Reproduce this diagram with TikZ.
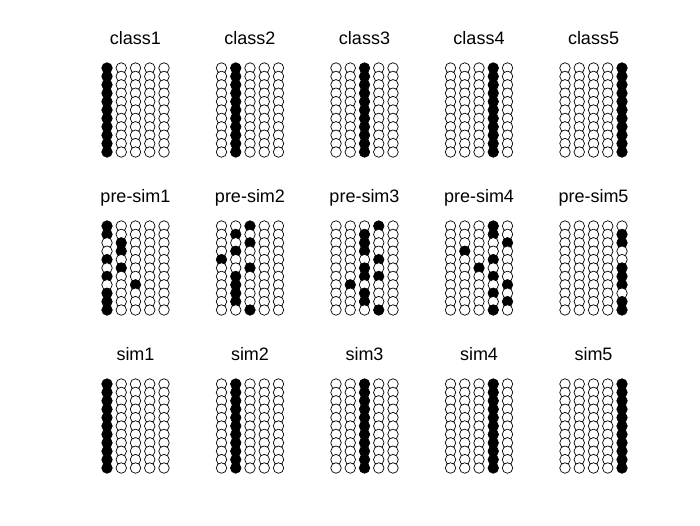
\documentclass[tikz,border=0pt]{standalone}
\usepackage{fontspec}
\setmainfont{Liberation Sans}
\usetikzlibrary{positioning}

\begin{document}
\begin{tikzpicture}[
  x=1pt,y=-1pt,
  dot0/.style={draw,circle,inner sep=0pt,minimum size=10.5pt,line width=0.7pt,fill=white},
  dot1/.style={dot0,fill=black},
  ptitle/.style={anchor=base,font=\fontsize{18}{20}\selectfont}
]
  \useasboundingbox (0,0) rectangle (700,525);

  % one panel per entry: block/panel/title/row masks (bit c-1 = column c filled)
  \foreach \b/\p/\name/\masks in {
    0/0/class1/{1,1,1,1,1,1,1,1,1,1,1},
    0/1/class2/{2,2,2,2,2,2,2,2,2,2,2},
    0/2/class3/{4,4,4,4,4,4,4,4,4,4,4},
    0/3/class4/{8,8,8,8,8,8,8,8,8,8,8},
    0/4/class5/{16,16,16,16,16,16,16,16,16,16,16},
    1/0/pre-sim1/{1,1,2,2,1,2,1,4,1,1,1},
    1/1/pre-sim2/{4,2,4,2,1,4,2,2,2,2,4},
    1/2/pre-sim3/{8,4,4,4,8,4,12,2,4,4,8},
    1/3/pre-sim4/{8,8,16,2,8,4,8,16,8,16,8},
    1/4/pre-sim5/{0,16,16,0,0,16,16,16,0,16,16},
    2/0/sim1/{1,1,1,1,1,1,1,1,1,1,1},
    2/1/sim2/{2,2,2,2,2,2,2,2,2,2,2},
    2/2/sim3/{4,4,4,4,4,4,4,4,4,4,4},
    2/3/sim4/{8,8,8,8,8,8,8,8,8,8,8},
    2/4/sim5/{16,16,16,16,16,16,16,16,16,16,16}} {
    \node[ptitle] (t-\b-\p) at ({135.5+114.5*\p},{44+158*\b}) {\name};
    \foreach \m [count=\r] in \masks {
      \foreach \c in {1,...,5} {
        \pgfmathtruncatemacro\on{mod(floor(\m/2^(\c-1)),2)}
        \node[dot\on] (d-\b-\p-\c-\r) at ({107+114.5*\p+14.25*(\c-1)},{68+158*\b+8.4*(\r-1)}) {};
      }
    }
  }
\end{tikzpicture}
\end{document}
